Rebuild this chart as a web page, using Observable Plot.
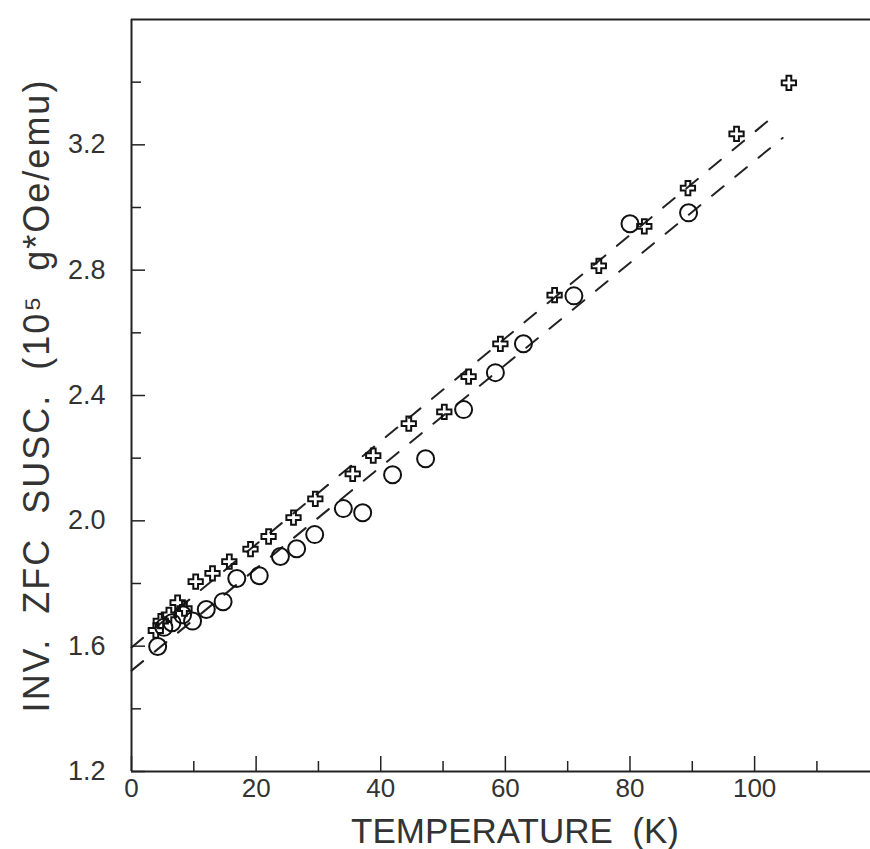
<!DOCTYPE html>
<html>
<head>
<meta charset="utf-8">
<script src="https://cdn.jsdelivr.net/npm/d3@7"></script>
<script src="https://cdn.jsdelivr.net/npm/@observablehq/plot@0.6"></script>
<style>
  html, body { margin: 0; padding: 0; background: #fff; }
  svg text { white-space: pre; }
  g[aria-label="y-axis label"] text { letter-spacing: 2px; }
  g[aria-label="x-axis label"] text { translate: 14px 0; }
</style>
</head>
<body>
<div id="chart"></div>
<script>
// ---- data ----
const circleT = [4.2, 5.2, 6.5, 8.2, 9.8, 12.0, 14.7, 16.9, 20.5, 23.9, 26.5, 29.4, 34.0, 37.1, 41.9, 47.2, 53.3, 58.4, 62.9, 71.0, 80.0, 89.4];
const circleV = [1.599, 1.66, 1.675, 1.70, 1.68, 1.717, 1.742, 1.816, 1.825, 1.886, 1.911, 1.956, 2.039, 2.026, 2.147, 2.198, 2.355, 2.473, 2.565, 2.718, 2.948, 2.983];

const crossT = [3.9, 4.7, 6.0, 7.4, 8.5, 10.3, 13.0, 15.7, 19.1, 22.0, 26.0, 29.5, 35.5, 38.8, 44.5, 50.2, 54.1, 59.2, 67.9, 75.0, 82.3, 89.3, 97.1, 105.5];
const crossV = [1.65, 1.68, 1.70, 1.739, 1.72, 1.806, 1.832, 1.87, 1.91, 1.95, 2.01, 2.07, 2.15, 2.208, 2.31, 2.348, 2.46, 2.565, 2.72, 2.814, 2.94, 3.062, 3.235, 3.398];

// dashed linear fits (end points)
const upperFitT = [0, 103.7];
const upperFitV = [1.596, 3.302];
const lowerFitT = [0, 104.5];
const lowerFitV = [1.522, 3.222];

// axes
const xDomain = [0, 118.6];
const yDomain = [1.2, 3.6];
const xMajor = [0, 20, 40, 60, 80, 100];
const xMinor = [10, 30, 50, 70, 90, 110];
const yMajor = [1.2, 1.6, 2.0, 2.4, 2.8, 3.2];
const yMinor = [1.4, 1.8, 2.2, 2.6, 3.0, 3.4];
const xTitle = "TEMPERATURE  (K)";
const yTitle = "INV.  ZFC  SUSC.  (10⁵  g*Oe/emu)";

const circles = circleT.map((t, i) => ({t, v: circleV[i]}));
const crosses = crossT.map((t, i) => ({t, v: crossV[i]}));
const upperFit = upperFitT.map((t, i) => ({t, v: upperFitV[i]}));
const lowerFit = lowerFitT.map((t, i) => ({t, v: lowerFitV[i]}));

const ink = "#222";
const textInk = "#333";
const font = "Liberation Sans, Arial, sans-serif";

const chart = Plot.plot({
  width: 870,
  height: 849,
  marginLeft: 131,
  marginRight: 0,
  marginTop: 19,
  marginBottom: 78,
  style: {fontFamily: font, color: textInk, background: "#fff"},
  x: {domain: xDomain},
  y: {domain: yDomain},
  marks: [
    // frame: left, bottom, top
    Plot.ruleX([xDomain[0]], {stroke: ink, strokeWidth: 2}),
    Plot.ruleY([yDomain[0]], {stroke: ink, strokeWidth: 2}),
    Plot.ruleY([yDomain[1]], {stroke: ink, strokeWidth: 2}),
    // inward tick marks
    Plot.axisX(xMajor, {tickSize: -15, text: null, label: null, stroke: ink, strokeWidth: 1.5}),
    Plot.axisX(xMinor, {tickSize: -10, text: null, label: null, stroke: ink, strokeWidth: 1.5}),
    Plot.axisY(yMajor, {tickSize: -14, text: null, label: null, stroke: ink, strokeWidth: 1.5}),
    Plot.axisY(yMinor, {tickSize: -10, text: null, label: null, stroke: ink, strokeWidth: 1.5}),
    // tick labels
    Plot.axisX(xMajor, {tickSize: 0, tickPadding: 7, fontSize: 26, fill: textInk, label: null, tickFormat: d => String(d)}),
    Plot.axisY(yMajor, {tickSize: 0, tickPadding: 26, fontSize: 27, fill: textInk, label: null, tickFormat: d => d.toFixed(1)}),
    // axis titles
    Plot.axisX([], {tickSize: 0, fontSize: 35, fill: textInk, label: xTitle, labelAnchor: "center",
      labelArrow: "none", labelOffset: 71}),
    Plot.axisY([], {tickSize: 0, fontSize: 36, fill: textInk, label: yTitle, labelAnchor: "center",
      labelArrow: "none", labelOffset: 108}),
    // dashed fits
    Plot.line(upperFit, {x: "t", y: "v", stroke: ink, strokeWidth: 2, strokeDasharray: "15,15"}),
    Plot.line(lowerFit, {x: "t", y: "v", stroke: ink, strokeWidth: 2, strokeDasharray: "15,15"}),
    // data
    Plot.dot(circles, {x: "t", y: "v", r: 8.5, stroke: "#111", strokeWidth: 2, fill: "none"}),
    Plot.dot(crosses, {x: "t", y: "v", symbol: "cross", r: 6, stroke: "#111", strokeWidth: 2, fill: "none"})
  ]
});
document.getElementById("chart").appendChild(chart);
</script>
</body>
</html>
